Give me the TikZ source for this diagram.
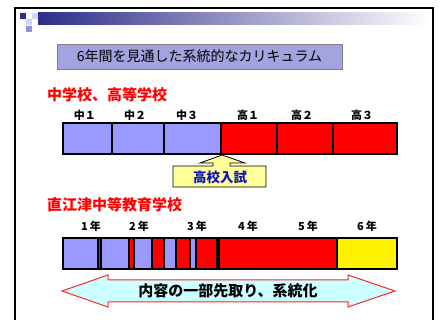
\documentclass[tikz,border=0pt]{standalone}
\usepackage{fontspec}
\newfontfamily\cjk{Noto Sans CJK JP}
\definecolor{navy}{HTML}{2E2E8A}
\definecolor{lav}{HTML}{9999FF}
\definecolor{titlefill}{HTML}{A3A3E0}
\definecolor{callfill}{HTML}{FFFF99}
\definecolor{arrfill}{HTML}{CCFFFF}
\definecolor{examblue}{HTML}{1010C0}
\tikzset{
  seg/.style={draw=black,line width=1.1pt,inner sep=0pt,outer sep=0pt,minimum height=31pt},
  bseg/.style={seg,fill=lav},
  rseg/.style={seg,fill=red},
  yseg/.style={seg,fill=yellow},
  lbl/.style={font=\cjk\bfseries\fontsize{11}{13}\selectfont,inner sep=0pt},
  head/.style={font=\cjk\bfseries\fontsize{15}{17}\selectfont,text=red,anchor=west,inner sep=0pt},
}
\begin{document}
\begin{tikzpicture}[x=1pt,y=-1pt]
\useasboundingbox (0,0) rectangle (440,320);
\fill[white] (0,0) rectangle (440,320);
% frame
\draw[line width=2pt] (15,330) -- (15,8) -- (433,8) -- (433,330);
% header decoration
\shade[left color=navy,right color=white] (38,13) rectangle (430,25);
\fill[navy] (20,13) rectangle (26,19);
\fill[lav!45] (26,19) rectangle (32,25);
\fill[lav!40] (32,13) rectangle (38,19);
\fill[lav!70!gray] (26,26) rectangle (32,32);
% title
\node[draw=gray,line width=0.8pt,fill=titlefill,minimum width=285pt,minimum height=25pt,inner sep=0pt,
  font=\cjk\fontsize{14}{16}\selectfont] (title) at (199.5,56.5) {6年間を見通した系統的なカリキュラム};
% headers
\node[head] (h1) at (47,95) {中学校、高等学校};
\node[head] (h2) at (47,205) {直江津中等教育学校};
% bar 1
\node[bseg,minimum width=49pt] (c1) at (87.5,138.5) {};
\node[bseg,minimum width=52pt] (c2) at (138,138.5) {};
\node[bseg,minimum width=57pt] (c3) at (192.5,138.5) {};
\node[rseg,minimum width=56pt] (k1) at (249,138.5) {};
\node[rseg,minimum width=56pt] (k2) at (305,138.5) {};
\node[rseg,minimum width=64pt] (k3) at (365,138.5) {};
\node[lbl] (lc1) at (85,115) {中１};
\node[lbl] (lc2) at (135,115) {中２};
\node[lbl] (lc3) at (187,115) {中３};
\node[lbl] (lk1) at (248,115) {高１};
\node[lbl] (lk2) at (302,115) {高２};
\node[lbl] (lk3) at (362,115) {高３};
% exam callout
\draw[fill=callfill,line width=0.8pt] (173,166) -- (213,166) -- (213,163) -- (200,163) -- (222,155)
  -- (245,163) -- (230,163) -- (230,166) -- (266,166) -- (266,187) -- (173,187) -- cycle;
\node[font=\cjk\bfseries\fontsize{13.5}{15}\selectfont,text=examblue,inner sep=0pt] (exam) at (220,177) {高校入試};
% bar 2
\node[bseg,minimum width=35pt] (s1) at (80.5,253.5) {};
\node[rseg,minimum width=3pt] (s2) at (99.5,253.5) {};
\node[bseg,minimum width=28pt] (s3) at (115,253.5) {};
\node[rseg,minimum width=5pt] (s4) at (131.5,253.5) {};
\node[bseg,minimum width=18pt] (s5) at (143,253.5) {};
\node[rseg,minimum width=12pt] (s6) at (158,253.5) {};
\node[bseg,minimum width=12pt] (s7) at (170,253.5) {};
\node[rseg,minimum width=14pt] (s8) at (183,253.5) {};
\node[bseg,minimum width=6pt] (s9) at (193,253.5) {};
\node[rseg,minimum width=21pt] (s10) at (206.5,253.5) {};
\node[bseg,minimum width=2pt] (s11) at (218,253.5) {};
\node[rseg,minimum width=118pt] (s12) at (278,253.5) {};
\node[yseg,minimum width=60pt] (s13) at (367,253.5) {};
\node[lbl] (y1) at (91,226) {1\,年};
\node[lbl] (y2) at (139,226) {2\,年};
\node[lbl] (y3) at (197,226) {3\,年};
\node[lbl] (y4) at (248,226) {4\,年};
\node[lbl] (y5) at (308,226) {5\,年};
\node[lbl] (y6) at (367,226) {6\,年};
% double arrow
\draw[draw=red!85!white,fill=arrfill,line width=1pt] (62,291) -- (108,275) -- (108,280) -- (348,280) -- (348,275)
  -- (395,291) -- (348,307) -- (348,302) -- (108,302) -- (108,307) -- cycle;
\node[font=\cjk\bfseries\fontsize{15}{17}\selectfont,inner sep=0pt] (adv) at (228,291) {内容の一部先取り、系統化};
\end{tikzpicture}
\end{document}
